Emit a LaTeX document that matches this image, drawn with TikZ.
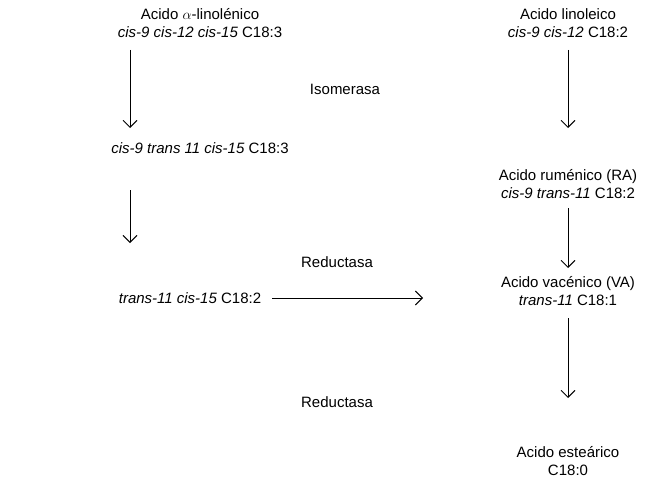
\documentclass[tikz,border=0pt]{standalone}
\usepackage{fontspec}
\setmainfont{Liberation Sans}
\usetikzlibrary{arrows.meta}
\begin{document}
\begin{tikzpicture}[
  x=1pt, y=-1pt,
  every node/.style={align=center, inner sep=0pt, font=\fontsize{15}{18}\selectfont},
  arr/.style={draw, line width=0.9pt, -{Straight Barb[length=7pt,width=14pt]}}
]
\useasboundingbox (0,0) rectangle (660,484);
% left column
\node (ala) at (200,23) {Acido $\alpha$-linolénico\\\textit{cis-9 cis-12 cis-15} C18:3};
\node (cla) at (200,148) {\textit{cis-9 trans 11 cis-15} C18:3};
\node (tcs) at (190,298) {\textit{trans-11 cis-15} C18:2};
% right column
\node (la) at (568,23) {Acido linoleico\\\textit{cis-9 cis-12} C18:2};
\node (ra) at (568,184) {Acido ruménico (RA)\\\textit{cis-9 trans-11} C18:2};
\node (va) at (568,291) {Acido vacénico (VA)\\\textit{trans-11} C18:1};
\node (sa) at (568,461) {Acido esteárico\\C18:0};
% enzymes
\node (iso) at (345,89) {Isomerasa};
\node (red1) at (337,262) {Reductasa};
\node (red2) at (337,402) {Reductasa};
% arrow ends
\coordinate (l1a) at (130,50);  \coordinate (l1b) at (130,128);
\coordinate (l2a) at (130,190); \coordinate (l2b) at (130,243);
\coordinate (r1a) at (568,50);  \coordinate (r1b) at (568,128);
\coordinate (r2a) at (568,208); \coordinate (r2b) at (568,268);
\coordinate (r3a) at (568,318); \coordinate (r3b) at (568,398);
\coordinate (ha) at (272,298);  \coordinate (hb) at (423,298);
\draw[arr] (l1a) -- (l1b);
\draw[arr] (l2a) -- (l2b);
\draw[arr] (r1a) -- (r1b);
\draw[arr] (r2a) -- (r2b);
\draw[arr] (r3a) -- (r3b);
\draw[arr] (ha) -- (hb);
\end{tikzpicture}
\end{document}
